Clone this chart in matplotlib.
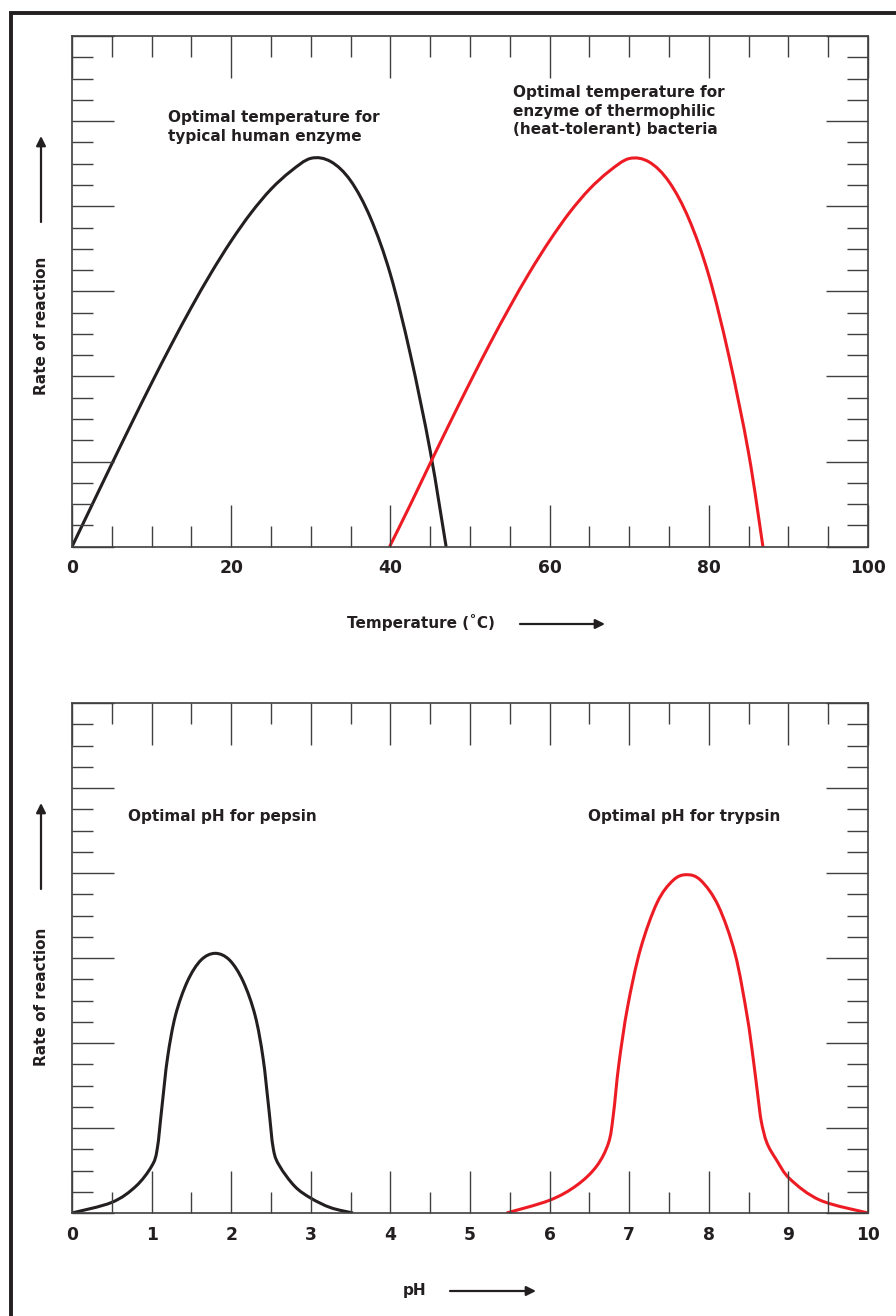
import numpy as np
import matplotlib.pyplot as plt
from matplotlib.lines import Line2D
from matplotlib.patches import FancyArrowPatch, PathPatch
from matplotlib.path import Path

plt.rcParams['font.family'] = ['DejaVu Sans']
plt.rcParams['font.weight'] = 'bold'

INK = '#231f20'
RED = '#ed1c24'
AXC = '#404040'

# temperature panel (rate in arbitrary units, 24 ticks full height)
temp_human = [0, 2.5, 5, 7.5, 10, 12.5, 15, 17.5, 20, 22.5, 25, 27.5, 30,
              32.5, 35, 37.5, 40, 42.5, 45, 47]
rate_human = [0, 1.95, 3.89, 5.81, 7.69, 9.51, 11.25, 12.88, 14.37, 15.69, 16.8, 17.65, 18.25,
              18.1, 17.2, 15.45, 12.8, 9.05, 4.5, 0]
temp_thermo = [39.9, 42.5, 45, 47.5, 50, 52.5, 55, 57.5, 60, 62.5, 65, 67.5, 70,
               72.5, 75, 77.5, 80, 82.5, 85, 86.8]
rate_thermo = [0, 1.97, 3.92, 5.84, 7.72, 9.54, 11.27, 12.9, 14.38, 15.7, 16.8, 17.65, 18.24,
               18.08, 17.15, 15.4, 12.75, 9.0, 4.4, 0]

# pH panel
ph_pepsin = [0, 0.5, 0.8, 1.0, 1.07, 1.13, 1.2, 1.3, 1.45, 1.62, 1.8,
             1.98, 2.15, 2.3, 2.4, 2.47, 2.53, 2.61, 2.8, 3.0, 3.25, 3.53]
rate_pepsin = [0, 0.5, 1.25, 2.2, 3.0, 5.0, 7.3, 9.3, 10.9, 11.9, 12.22,
               11.9, 10.9, 9.3, 7.3, 5.0, 3.0, 2.2, 1.25, 0.7, 0.25, 0]
ph_trypsin = [5.46, 6.0, 6.34, 6.59, 6.74, 6.8, 6.87, 6.98, 7.14, 7.35, 7.55, 7.72,
              7.9, 8.12, 8.33, 8.48, 8.56, 8.62, 8.66, 8.73, 8.85, 9.02, 9.4, 10.0]
rate_trypsin = [0, 0.6, 1.3, 2.2, 3.3, 4.6, 7.0, 9.7, 12.4, 14.6, 15.65, 15.92,
                15.65, 14.45, 12.2, 9.3, 7.2, 5.4, 4.3, 3.3, 2.5, 1.6, 0.6, 0]

temp_ticks = [0, 20, 40, 60, 80, 100]
ph_ticks = list(range(0, 11))

W, H = 896, 1316
fig = plt.figure(figsize=(W / 100, H / 100), dpi=100)


def fx(px):
    return px / W


def fy(py):
    return 1 - py / H


def smooth_curve(ax, xs, ys, color):
    # draw the read points as a Catmull-Rom style bezier path
    p = np.column_stack([xs, ys]).astype(float)
    ext = np.vstack([p[0], p, p[-1]])
    verts = [p[0]]
    codes = [Path.MOVETO]
    for i in range(len(p) - 1):
        p0, p1, p2, p3 = ext[i], ext[i + 1], ext[i + 2], ext[i + 3]
        verts += [p1 + (p2 - p0) / 6, p2 - (p3 - p1) / 6, p2]
        codes += [Path.CURVE4] * 3
    ax.add_patch(PathPatch(Path(verts, codes), fill=False, edgecolor=color,
                           lw=2.2, capstyle='butt', joinstyle='round'))


def style_axes(ax, xmajor, xminor, xmax):
    ax.set_xlim(0, xmax)
    ax.set_ylim(0, 24)
    ax.set_xticks(xmajor)
    ax.set_xticks(xminor, minor=True)
    ax.set_yticks(np.arange(0, 25, 4))
    ax.set_yticks(np.arange(0, 25, 1), minor=True)
    ax.tick_params(which='both', direction='in', top=True, right=True,
                   labelleft=False, color=AXC, width=1.0)
    ax.tick_params(which='major', length=30)
    ax.tick_params(which='minor', length=15)
    ax.tick_params(axis='x', which='major', pad=9, labelsize=12.3, labelcolor=INK)
    for lab in ax.get_xticklabels():
        lab.set_fontweight('bold')
    for s in ax.spines.values():
        s.set_color(AXC)
        s.set_linewidth(1.2)


ax1 = fig.add_axes([fx(72), fy(546.7), fx(868) - fx(72), fy(36) - fy(546.7)])
smooth_curve(ax1, temp_human, rate_human, INK)
smooth_curve(ax1, temp_thermo, rate_thermo, RED)
style_axes(ax1, temp_ticks, np.arange(0, 101, 5), 100)

ax2 = fig.add_axes([fx(72), fy(1213), fx(868) - fx(72), fy(703) - fy(1213)])
smooth_curve(ax2, ph_pepsin, rate_pepsin, INK)
smooth_curve(ax2, ph_trypsin, rate_trypsin, RED)
style_axes(ax2, ph_ticks, np.arange(0, 10.01, 0.5), 10)

tkw = dict(fontsize=11, fontweight='bold', color=INK)
fig.text(fx(168), fy(110), 'Optimal temperature for\ntypical human enzyme',
         ha='left', va='top', linespacing=1.3, **tkw)
fig.text(fx(513), fy(85), 'Optimal temperature for\nenzyme of thermophilic\n(heat-tolerant) bacteria',
         ha='left', va='top', linespacing=1.3, **tkw)
fig.text(fx(128), fy(816), 'Optimal pH for pepsin', ha='left', va='center', **tkw)
fig.text(fx(588), fy(816), 'Optimal pH for trypsin', ha='left', va='center', **tkw)

# axis titles with arrows
fig.text(fx(42), fy(326), 'Rate of reaction', rotation=90, ha='center', va='center', **tkw)
fig.text(fx(42), fy(997), 'Rate of reaction', rotation=90, ha='center', va='center', **tkw)
fig.text(fx(421), fy(623), 'Temperature (˚C)', ha='center', va='center', **tkw)
fig.text(fx(415), fy(1290), 'pH', ha='center', va='center', **tkw)

arrows = [((41, 222), (41, 136)), ((41, 889), (41, 803)),
          ((520, 624), (605, 624)), ((450, 1291), (536, 1291))]
for (x0, y0), (x1, y1) in arrows:
    fig.add_artist(FancyArrowPatch((fx(x0), fy(y0)), (fx(x1), fy(y1)),
                                   transform=fig.transFigure, arrowstyle='-|>',
                                   mutation_scale=14, lw=1.6, color=INK,
                                   shrinkA=0, shrinkB=0))

# outer frame (open on right and bottom)
fig.add_artist(Line2D([fx(11), fx(11), 1.0], [0.0, fy(13), fy(13)],
                      transform=fig.transFigure, color=INK, lw=2.8,
                      solid_joinstyle='miter'))

fig.savefig('out.png', dpi=100)
